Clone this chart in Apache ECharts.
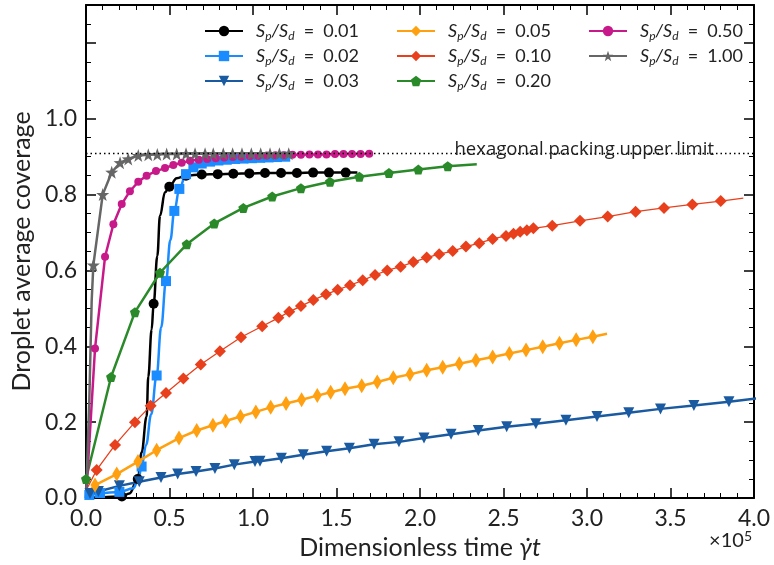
<!DOCTYPE html>
<html><head><meta charset="utf-8">
<script src="https://cdn.jsdelivr.net/npm/echarts@6/dist/echarts.min.js"></script>
<style>html,body{margin:0;padding:0;background:#fff}#c{width:774px;height:565px}</style>
</head><body><div id="c"></div>
<script>
// ---------------- data (x in units of 1e5) ----------------
const HEX_LIMIT = 0.9069;
const xTickLabels = ['0.0','0.5','1.0','1.5','2.0','2.5','3.0','3.5','4.0'];
const yTickLabels = ['0.0','0.2','0.4','0.6','0.8','1.0'];

// S_p/S_d = 0.01
const x001 = [0.0, 0.10, 0.215, 0.26, 0.31, 0.333, 0.363, 0.373, 0.393, 0.405, 0.427, 0.443, 0.473, 0.499, 0.543, 0.599, 0.693, 0.789, 0.882, 0.978, 1.072, 1.168, 1.263, 1.36, 1.455, 1.555, 1.625];
const y001 = [0.0, 0.002, 0.004, 0.012, 0.05, 0.12, 0.215, 0.32, 0.444, 0.512, 0.638, 0.744, 0.806, 0.821, 0.843, 0.850, 0.853, 0.854, 0.855, 0.856, 0.857, 0.857, 0.857, 0.858, 0.858, 0.858, 0.858];
const m001 = [0,0,1,0,1,0,0,0,0,1,0,0,0,1,0,1,1,1,1,1,1,1,1,1,1,1,0];
// S_p/S_d = 0.02
const x002 = [0.0, 0.02, 0.084, 0.2, 0.283, 0.313, 0.333, 0.36, 0.39, 0.423, 0.45, 0.479, 0.505, 0.529, 0.559, 0.599, 0.643, 0.693, 0.743, 0.793, 0.843, 0.893, 0.943, 0.993, 1.043, 1.093, 1.143, 1.193, 1.22];
const y002 = [0.0, 0.008, 0.013, 0.016, 0.026, 0.048, 0.083, 0.14, 0.22, 0.323, 0.45, 0.572, 0.68, 0.757, 0.815, 0.854, 0.872, 0.882, 0.887, 0.890, 0.892, 0.894, 0.895, 0.896, 0.897, 0.898, 0.899, 0.900, 0.900];
const m002 = [0,1,1,1,0,0,1,0,0,1,0,1,0,1,1,1,1,1,1,1,1,1,1,1,1,1,1,1,0];
// S_p/S_d = 0.03
const x003 = [0.0, 0.024, 0.074, 0.2, 0.319, 0.449, 0.549, 0.659, 0.772, 0.888, 1.012, 1.042, 1.17, 1.301, 1.441, 1.577, 1.725, 1.874, 2.024, 2.186, 2.349, 2.519, 2.694, 2.874, 3.06, 3.25, 3.44, 3.64, 3.85, 4.06];
const y003 = [0.0, 0.012, 0.017, 0.032, 0.043, 0.054, 0.063, 0.070, 0.078, 0.088, 0.096, 0.097, 0.105, 0.114, 0.123, 0.131, 0.142, 0.148, 0.158, 0.168, 0.178, 0.188, 0.196, 0.205, 0.215, 0.225, 0.235, 0.244, 0.254, 0.265];
// S_p/S_d = 0.05
const x005 = [0.0, 0.054, 0.184, 0.311, 0.423, 0.557, 0.663, 0.76, 0.836, 0.925, 1.017, 1.106, 1.198, 1.291, 1.385, 1.465, 1.551, 1.651, 1.744, 1.840, 1.940, 2.040, 2.136, 2.235, 2.335, 2.435, 2.535, 2.635, 2.735, 2.835, 2.935, 3.035, 3.12];
const y005 = [0.01, 0.034, 0.063, 0.096, 0.126, 0.158, 0.178, 0.192, 0.203, 0.215, 0.227, 0.239, 0.249, 0.259, 0.270, 0.279, 0.288, 0.296, 0.306, 0.317, 0.326, 0.337, 0.345, 0.354, 0.363, 0.372, 0.381, 0.390, 0.399, 0.408, 0.417, 0.425, 0.433];
// S_p/S_d = 0.10
const x010 = [0.0, 0.064, 0.174, 0.293, 0.387, 0.479, 0.583, 0.687, 0.802, 0.928, 1.055, 1.152, 1.217, 1.287, 1.361, 1.437, 1.507, 1.581, 1.657, 1.731, 1.804, 1.884, 1.960, 2.040, 2.115, 2.196, 2.275, 2.355, 2.435, 2.515, 2.56, 2.60, 2.64, 2.679, 2.792, 2.958, 3.124, 3.291, 3.461, 3.631, 3.801, 3.936];
const y010 = [0.02, 0.074, 0.140, 0.200, 0.243, 0.277, 0.315, 0.352, 0.387, 0.424, 0.453, 0.475, 0.491, 0.506, 0.522, 0.537, 0.549, 0.561, 0.574, 0.588, 0.600, 0.610, 0.622, 0.634, 0.643, 0.651, 0.663, 0.672, 0.683, 0.691, 0.697, 0.702, 0.706, 0.711, 0.718, 0.731, 0.742, 0.755, 0.765, 0.774, 0.783, 0.791];
// S_p/S_d = 0.20
const x020 = [0.0, 0.150, 0.293, 0.443, 0.603, 0.768, 0.942, 1.115, 1.287, 1.461, 1.637, 1.814, 1.990, 2.166, 2.34];
const y020 = [0.05, 0.319, 0.490, 0.594, 0.669, 0.724, 0.765, 0.795, 0.817, 0.834, 0.847, 0.857, 0.866, 0.875, 0.880];
// S_p/S_d = 0.50
const x050 = [0.0, 0.054, 0.114, 0.164, 0.214, 0.263, 0.313, 0.363, 0.419, 0.473, 0.523, 0.573, 0.623, 0.675, 0.726, 0.777, 0.828, 0.879, 0.930, 0.981, 1.032, 1.083, 1.134, 1.185, 1.236, 1.287, 1.338, 1.389, 1.440, 1.491, 1.542, 1.593, 1.644, 1.696];
const y050 = [0.0, 0.394, 0.636, 0.722, 0.775, 0.809, 0.834, 0.850, 0.862, 0.870, 0.878, 0.884, 0.889, 0.892, 0.894, 0.896, 0.898, 0.899, 0.900, 0.901, 0.902, 0.903, 0.904, 0.904, 0.905, 0.905, 0.906, 0.906, 0.906, 0.907, 0.907, 0.907, 0.907, 0.908];
// S_p/S_d = 1.00
const x100 = [0.0, 0.02, 0.034, 0.044, 0.10, 0.154, 0.204, 0.253, 0.313, 0.373, 0.427, 0.483, 0.543, 0.599, 0.653, 0.713, 0.762, 0.822, 0.878, 0.934, 0.990, 1.046, 1.102, 1.158, 1.214];
const y100 = [0.0, 0.26, 0.52, 0.614, 0.80, 0.859, 0.884, 0.894, 0.903, 0.905, 0.906, 0.907, 0.907, 0.908, 0.908, 0.908, 0.908, 0.908, 0.908, 0.908, 0.908, 0.908, 0.908, 0.908, 0.908];
const m100 = [0,0,0,1,1,1,1,1,1,1,1,1,1,1,1,1,1,1,1,1,1,1,1,1,1];

// ---------------- helpers ----------------
function inner(n){ return Array.from({length:n},(_,i)=> (i===0||i===n-1)?0:1); }
function build(xs, ys, ms){
  return xs.map((x,i)=> ms[i] ? [x, ys[i]] : {value:[x, ys[i]], symbol:'none'});
}
const FONT = 'Lato';
const STAR = 'path://M0,-10L2.35,-3.24L9.51,-3.09L3.8,1.24L5.88,8.09L0,4L-5.88,8.09L-3.8,1.24L-9.51,-3.09L-2.35,-3.24Z';
const PENT = 'path://M0,-10L9.51,-3.09L5.88,8.09L-5.88,8.09L-9.51,-3.09Z';
const THIN = 'path://M0,-10L6,0L0,10L-6,0Z';

function ser(name, data, color, symbol, size, opts){
  return Object.assign({
    name, type:'line', data, color,
    symbol, symbolSize:size, showAllSymbol:true,
    lineStyle:{width:2.5, color},
    itemStyle:{color},
    emphasis:{disabled:true},
    animation:false, clip:true
  }, opts||{});
}

const series = [
  ser('0.01', build(x001,y001,m001), '#000000', 'circle', 10, {smooth:0.4, smoothMonotone:'x'}),
  ser('0.02', build(x002,y002,m002), '#1a8cff', 'rect', 10, {smooth:0.4, smoothMonotone:'x'}),
  ser('0.03', build(x003,y003,inner(x003.length+1)), '#1a5aa0', 'triangle', 11, {symbolRotate:180}),
  ser('0.05', build(x005,y005,inner(x005.length)), '#ffa010', THIN, [9,15]),
  ser('0.10', build(x010,y010,inner(x010.length)), '#e8401c', 'diamond', 12, {lineStyle:{width:1.3, color:'#e8401c'}}),
  ser('0.20', build(x020,y020,[1].concat(inner(x020.length).slice(1))), '#2a8a2a', PENT, 10),
  ser('0.50', build(x050,y050,inner(x050.length+1)), '#c8198a', 'circle', 8),
  ser('1.00', build(x100,y100,m100), '#666666', STAR, 13, {
    markLine:{
      silent:true, symbol:'none', animation:false,
      lineStyle:{type:[1.5,3], color:'#000', width:1.3},
      label:{show:true, position:'insideEndTop', formatter:'{t|hexagonal packing upper limit}{sp|}',
        rich:{t:{fontFamily:'Open Sans', fontSize:18.5, color:'#222'}, sp:{width:46}},
        distance:-6},
      data:[{yAxis:HEX_LIMIT}]
    }
  })
];

const richLegend = {
  i:{fontFamily:FONT, fontStyle:'italic', fontSize:18, color:'#222'},
  s:{fontFamily:FONT, fontStyle:'italic', fontSize:12, color:'#222', padding:[10,0,0,0]},
  r:{fontFamily:FONT, fontSize:18, color:'#222'}
};
function legend(names, left){
  return {
    data:names, orient:'vertical', left, top:17,
    itemWidth:38, itemHeight:13, itemGap:5,
    formatter: n => '{i|S}{s|p}{i|/S}{s|d}{r|  =  ' + n + '}',
    textStyle:{rich:richLegend, padding:[0,0,0,8]},
    selectedMode:false
  };
}

const axisCommon = {
  axisLine:{show:true, onZero:false, lineStyle:{color:'#000', width:2}},
  axisTick:{show:true, inside:true, length:10, lineStyle:{color:'#000', width:1.5}},
  splitLine:{show:false}
};

const option = {
  backgroundColor:'#fff',
  animation:false,
  grid:{left:86, right:20, top:5, bottom:67},
  legend:[legend(['0.01','0.02','0.03'],199), legend(['0.05','0.10','0.20'],391), legend(['0.50','1.00'],583)],
  xAxis:[
    Object.assign({type:'value', min:0, max:4, interval:0.5, position:'bottom',
      minorTick:{show:true, splitNumber:5, length:5, lineStyle:{color:'#000', width:1}},
      axisLabel:{formatter:(v)=>xTickLabels[Math.round(v/0.5)]||'', fontFamily:FONT, fontSize:23, color:'#222', margin:9, showMinLabel:true, showMaxLabel:true},
      name:'Dimensionless time {g|γ̇}{t|t}', nameLocation:'middle', nameGap:37,
      nameTextStyle:{fontFamily:FONT, fontSize:25, color:'#222', rich:{g:{fontFamily:FONT, fontStyle:'italic', fontSize:25, color:'#222'}, t:{fontFamily:FONT, fontStyle:'italic', fontSize:25, color:'#222'}}}
    }, axisCommon),
    Object.assign({type:'value', min:0, max:4, interval:0.5, position:'top',
      minorTick:{show:true, splitNumber:5, length:5, lineStyle:{color:'#000', width:1}},
      axisLabel:{show:false}}, axisCommon)
  ],
  yAxis:[
    Object.assign({type:'value', min:0, max:1.3, interval:0.2, position:'left',
      minorTick:{show:true, splitNumber:4, length:5, lineStyle:{color:'#000', width:1}},
      axisLabel:{formatter:(v)=> v>1.05 ? '' : (yTickLabels[Math.round(v/0.2)]||''), fontFamily:FONT, fontSize:23, color:'#222', margin:9},
      name:'Droplet average coverage', nameLocation:'middle', nameGap:52,
      nameTextStyle:{fontFamily:FONT, fontSize:25, color:'#222'}
    }, axisCommon),
    Object.assign({type:'value', min:0, max:1.3, interval:0.2, position:'right',
      minorTick:{show:true, splitNumber:4, length:5, lineStyle:{color:'#000', width:1}},
      axisLabel:{show:false}}, axisCommon)
  ],
  graphic:[{
    type:'text', right:22, top:529,
    style:{text:'×10{e|5}', fontFamily:FONT, fontSize:20, fill:'#222',
      rich:{e:{fontFamily:FONT, fontSize:14, fill:'#222', padding:[0,0,10,0]}}}
  }],
  series
};
const chart = echarts.init(document.getElementById('c'), null, {renderer:'canvas'});
chart.setOption(option);
</script>
</body></html>
